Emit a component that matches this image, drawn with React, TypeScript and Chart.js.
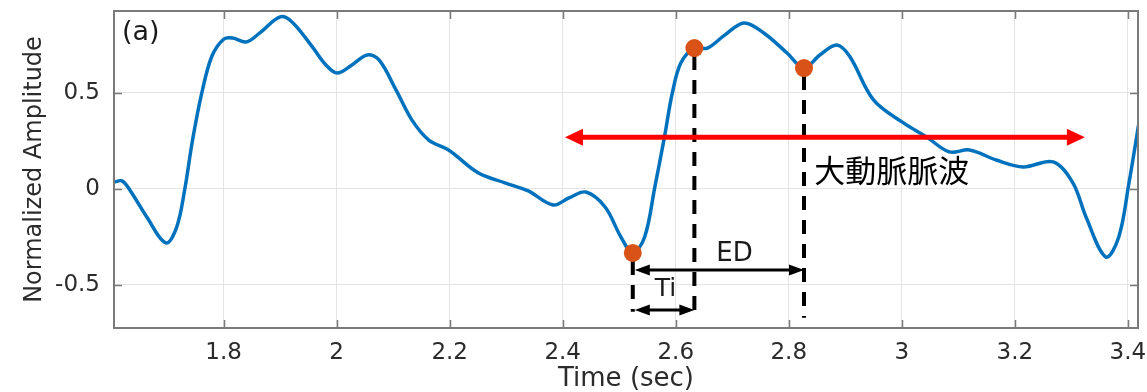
import React, { useEffect, useRef } from "react";
import { Chart, registerables } from "chart.js";

Chart.register(...registerables);

// ---- data ----
const timeSec = [
  1.606, 1.62, 1.634, 1.664, 1.698, 1.717, 1.731, 1.745, 1.761, 1.779, 1.8, 1.816, 1.84, 1.863, 1.9,
  1.921, 1.957, 1.981, 2.001, 2.027, 2.054, 2.075, 2.105, 2.133, 2.163, 2.198, 2.251, 2.299, 2.339,
  2.383, 2.412, 2.441, 2.475, 2.503, 2.524, 2.545, 2.563, 2.58, 2.594, 2.609, 2.633, 2.656, 2.686,
  2.721, 2.757, 2.797, 2.827, 2.855, 2.885, 2.908, 2.95, 3.003, 3.044, 3.084, 3.12, 3.167, 3.215,
  3.268, 3.303, 3.326, 3.361, 3.384, 3.402, 3.419,
];
const amplitude = [
  0.036, 0.042, -0.005, -0.146, -0.281, -0.198, -0.005, 0.255, 0.495, 0.69, 0.78, 0.786, 0.766, 0.81,
  0.896, 0.87, 0.74, 0.646, 0.604, 0.646, 0.698, 0.672, 0.516, 0.36, 0.255, 0.203, 0.083, 0.031,
  -0.01, -0.083, -0.045, -0.016, -0.094, -0.25, -0.333, -0.25, 0.01, 0.27, 0.5, 0.656, 0.734, 0.734,
  0.8, 0.865, 0.81, 0.708, 0.63, 0.698, 0.75, 0.69, 0.464, 0.344, 0.271, 0.193, 0.203, 0.151, 0.115,
  0.141, 0.031, -0.146, -0.354, -0.25, 0.031, 0.333,
];

const keyTimes = [2.524, 2.633, 2.827];
const keyAmps = [-0.333, 0.734, 0.63];
const dashBottoms = [-0.64, -0.68, -0.67];

const xTicks = [1.8, 2, 2.2, 2.4, 2.6, 2.8, 3, 3.2, 3.4];
const yTicks = [-0.5, 0, 0.5];
const xRange = [1.606, 3.418];
const yRange = [-0.724, 0.927];

const redArrowX = [2.404, 3.324];
const redArrowY = 0.27;
const edArrowX = [2.524, 2.827];
const edArrowY = -0.422;
const tiArrowX = [2.524, 2.633];
const tiArrowY = -0.63;

const labelTexts = ["(a)", "ED", "Ti", "大動脈脈波"];
const labelX = [1.62, 2.704, 2.582, 2.845];
const labelY = [0.8125, -0.338, -0.525, 0.099];

function drawDoubleArrow(
  ctx: CanvasRenderingContext2D,
  x1: number,
  x2: number,
  y: number,
  lw: number,
  headLen: number,
  headHalf: number,
  color: string
) {
  ctx.save();
  ctx.strokeStyle = color;
  ctx.fillStyle = color;
  ctx.lineWidth = lw;
  ctx.setLineDash([]);
  ctx.beginPath();
  ctx.moveTo(x1 + headLen - 1, y);
  ctx.lineTo(x2 - headLen + 1, y);
  ctx.stroke();
  ctx.beginPath();
  ctx.moveTo(x1, y);
  ctx.lineTo(x1 + headLen, y - headHalf);
  ctx.lineTo(x1 + headLen, y + headHalf);
  ctx.closePath();
  ctx.fill();
  ctx.beginPath();
  ctx.moveTo(x2, y);
  ctx.lineTo(x2 - headLen, y - headHalf);
  ctx.lineTo(x2 - headLen, y + headHalf);
  ctx.closePath();
  ctx.fill();
  ctx.restore();
}

const annotPlugin = {
  id: "annot",
  beforeDatasetsDraw(chart: any) {
    const { ctx, scales } = chart;
    const x = scales.x;
    const y = scales.y;
    ctx.save();
    ctx.strokeStyle = "#000";
    ctx.lineWidth = 4;
    ctx.setLineDash([14, 10]);
    keyTimes.forEach((t, i) => {
      const px = x.getPixelForValue(t);
      ctx.beginPath();
      ctx.moveTo(px, y.getPixelForValue(keyAmps[i]) + 8);
      ctx.lineTo(px, y.getPixelForValue(dashBottoms[i]));
      ctx.stroke();
    });
    ctx.restore();
  },
  afterDatasetsDraw(chart: any) {
    const { ctx, scales, chartArea: a } = chart;
    const x = scales.x;
    const y = scales.y;

    // frame with inward ticks
    ctx.save();
    ctx.strokeStyle = "#7a7a7a";
    ctx.lineWidth = 2;
    ctx.strokeRect(a.left, a.top, a.right - a.left, a.bottom - a.top);
    ctx.lineWidth = 1.5;
    ctx.beginPath();
    xTicks.forEach((t) => {
      const px = Math.round(x.getPixelForValue(t)) + 0.5;
      ctx.moveTo(px, a.bottom);
      ctx.lineTo(px, a.bottom - 8);
      ctx.moveTo(px, a.top);
      ctx.lineTo(px, a.top + 8);
    });
    yTicks.forEach((v) => {
      const py = Math.round(y.getPixelForValue(v)) + 0.5;
      ctx.moveTo(a.left, py);
      ctx.lineTo(a.left + 8, py);
      ctx.moveTo(a.right, py);
      ctx.lineTo(a.right - 8, py);
    });
    ctx.stroke();
    ctx.restore();

    // arrows
    drawDoubleArrow(
      ctx,
      x.getPixelForValue(redArrowX[0]),
      x.getPixelForValue(redArrowX[1]),
      y.getPixelForValue(redArrowY),
      5,
      18,
      8.5,
      "#ff0000"
    );
    drawDoubleArrow(
      ctx,
      x.getPixelForValue(edArrowX[0]) + 2,
      x.getPixelForValue(edArrowX[1]),
      y.getPixelForValue(edArrowY),
      3,
      15,
      5.5,
      "#000000"
    );
    drawDoubleArrow(
      ctx,
      x.getPixelForValue(tiArrowX[0]) + 2,
      x.getPixelForValue(tiArrowX[1]),
      y.getPixelForValue(tiArrowY),
      3,
      15,
      5.5,
      "#000000"
    );

    // texts
    ctx.save();
    ctx.textBaseline = "middle";
    const fonts = [
      '27px "DejaVu Sans"',
      '26px "DejaVu Sans"',
      '25px "DejaVu Sans"',
      '31px "Noto Sans CJK JP"',
    ];
    const aligns: CanvasTextAlign[] = ["left", "center", "center", "left"];
    const colors = ["#1a1a1a", "#1a1a1a", "#1a1a1a", "#000000"];
    labelTexts.forEach((txt, i) => {
      ctx.font = fonts[i];
      ctx.textAlign = aligns[i];
      ctx.fillStyle = colors[i];
      ctx.fillText(txt, x.getPixelForValue(labelX[i]), y.getPixelForValue(labelY[i]));
    });
    ctx.restore();
  },
};

export default function App() {
  const canvasRef = useRef<HTMLCanvasElement | null>(null);

  useEffect(() => {
    document.body.style.margin = "0";
    const canvas = canvasRef.current;
    if (!canvas) return;
    const chart = new Chart(canvas, {
      type: "line",
      data: {
        datasets: [
          {
            label: "key points",
            data: keyTimes.map((t, i) => ({ x: t, y: keyAmps[i] })),
            showLine: false,
            pointRadius: 9,
            pointHoverRadius: 9,
            pointBackgroundColor: "#D95319",
            pointBorderWidth: 0,
            borderColor: "#D95319",
            backgroundColor: "#D95319",
            order: 0,
          },
          {
            label: "signal",
            data: timeSec.map((t, i) => ({ x: t, y: amplitude[i] })),
            borderColor: "#0072BD",
            borderWidth: 3.5,
            pointRadius: 0,
            tension: 0.35,
            fill: false,
            order: 1,
          },
        ],
      },
      options: {
        animation: false,
        responsive: false,
        devicePixelRatio: 1,
        layout: { padding: { top: 11, right: 4, left: 0, bottom: 0 } },
        plugins: {
          legend: { display: false },
          tooltip: { enabled: false },
        },
        scales: {
          x: {
            type: "linear",
            min: xRange[0],
            max: xRange[1],
            afterBuildTicks: (s: any) => {
              s.ticks = xTicks.map((v) => ({ value: v }));
            },
            afterFit: (s: any) => {
              s.height = 64;
              s.paddingLeft = 0;
              s.paddingRight = 0;
            },
            grid: { color: "#e4e4e4", lineWidth: 1, drawTicks: false },
            border: { display: false },
            ticks: {
              padding: 11,
              color: "#2b2b2b",
              font: { family: "DejaVu Sans", size: 23 },
              callback: (v: any) => String(v),
              maxRotation: 0,
              autoSkip: false,
            },
            title: {
              display: true,
              text: "Time (sec)",
              color: "#2b2b2b",
              font: { family: "DejaVu Sans", size: 26, lineHeight: 1.0 },
              padding: { top: 0, bottom: 0 },
            },
          },
          y: {
            type: "linear",
            min: yRange[0],
            max: yRange[1],
            afterBuildTicks: (s: any) => {
              s.ticks = yTicks.map((v) => ({ value: v }));
            },
            afterFit: (s: any) => {
              s.width = 114;
              s.paddingTop = 0;
              s.paddingBottom = 0;
            },
            grid: { color: "#e4e4e4", lineWidth: 1, drawTicks: false },
            border: { display: false },
            ticks: {
              padding: 14,
              color: "#2b2b2b",
              font: { family: "DejaVu Sans", size: 23 },
              callback: (v: any) => String(v),
              autoSkip: false,
            },
            title: {
              display: true,
              text: "Normalized Amplitude",
              color: "#2b2b2b",
              font: { family: "DejaVu Sans", size: 24 },
              padding: { top: 20, bottom: 0 },
            },
          },
        },
      },
      plugins: [annotPlugin],
    });
    return () => chart.destroy();
  }, []);

  return (
    <div style={{ width: 1147, height: 392 }}>
      <canvas ref={canvasRef} width={1147} height={392} />
    </div>
  );
}
